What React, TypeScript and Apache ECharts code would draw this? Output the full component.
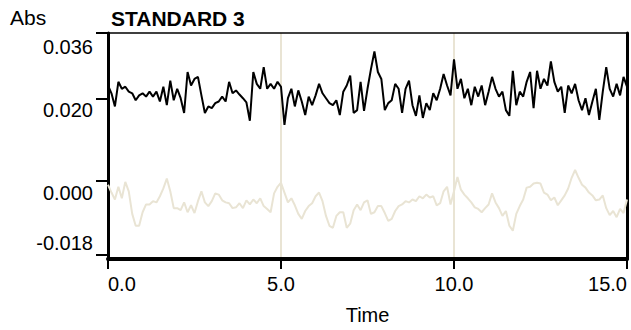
import React, { useEffect, useRef } from "react";
import * as echarts from "echarts";

const STEP = 0.1; // sample spacing along Time

const blackAbs = [
  0.0232, 0.0213, 0.0181, 0.0241, 0.0224, 0.0229, 0.0217, 0.0213, 0.0196, 0.0208,
  0.0213, 0.0205, 0.0217, 0.0205, 0.0217, 0.0193, 0.0229, 0.0184, 0.0244, 0.0196,
  0.0224, 0.0201, 0.0165, 0.0265, 0.0232, 0.0248, 0.0253, 0.0208, 0.0165, 0.0181,
  0.0177, 0.0189, 0.0193, 0.0205, 0.0193, 0.0241, 0.0213, 0.022, 0.021, 0.0201,
  0.0191, 0.0146, 0.0265, 0.0236, 0.0224, 0.0277, 0.0224, 0.0236, 0.0224, 0.0241,
  0.0229, 0.0136, 0.0201, 0.0224, 0.0181, 0.022, 0.0193, 0.016, 0.0205, 0.0184,
  0.0208, 0.0236, 0.0213, 0.0201, 0.0189, 0.0184, 0.0196, 0.016, 0.0217, 0.0232,
  0.0256, 0.0165, 0.0172, 0.0241, 0.017, 0.0224, 0.0272, 0.0315, 0.0265, 0.0248,
  0.0172, 0.0189, 0.0196, 0.0236, 0.0224, 0.0165, 0.0224, 0.0244, 0.0184, 0.0158,
  0.0208, 0.0153, 0.0189, 0.0172, 0.0213, 0.0196, 0.0224, 0.026, 0.0232, 0.0208,
  0.0296, 0.0224, 0.0248, 0.0201, 0.0224, 0.0184, 0.0229, 0.0205, 0.0232, 0.0184,
  0.0217, 0.0253, 0.0224, 0.0205, 0.0217, 0.0172, 0.0158, 0.0268, 0.0184, 0.0217,
  0.0205, 0.0241, 0.0265, 0.0177, 0.0268, 0.0224, 0.0248, 0.0232, 0.0291, 0.0241,
  0.0217, 0.0229, 0.0165, 0.0232, 0.0213, 0.0236, 0.0196, 0.0172, 0.0201, 0.016,
  0.0193, 0.0224, 0.0148, 0.0217, 0.0277, 0.0224, 0.0205, 0.0236, 0.0208, 0.0253, 0.0229,
];

const beigeAbs = [
  -0.001, -0.0029, -0.0046, -0.0015, -0.0043, -0.0003, -0.0026, -0.0081, -0.011, -0.011,
  -0.0077, -0.0058, -0.0058, -0.005, -0.0053, -0.0038, -0.0019, 0.0005, -0.0026, -0.0067,
  -0.0067, -0.0072, -0.0053, -0.0077, -0.006, -0.0079, -0.005, -0.0026, -0.0053, -0.0062,
  -0.005, -0.0031, -0.0034, -0.0048, -0.0053, -0.0055, -0.0067, -0.0065, -0.0055, -0.0067,
  -0.0048, -0.0058, -0.0046, -0.0055, -0.0043, -0.0062, -0.0069, -0.0077, -0.0031, -0.0015,
  -0.0005, -0.0029, -0.0053, -0.0043, -0.006, -0.0081, -0.0093, -0.0074, -0.0062, -0.0055,
  -0.0038, -0.0029, -0.005, -0.0086, -0.011, -0.0115, -0.0086, -0.0077, -0.0077, -0.0115,
  -0.0105, -0.0072, -0.0058, -0.0072, -0.0053, -0.0048, -0.0081, -0.0077, -0.0062, -0.0062,
  -0.0079, -0.0098, -0.0093, -0.0074, -0.0062, -0.0058, -0.005, -0.0053, -0.0046, -0.005,
  -0.0038, -0.0043, -0.0034, -0.0041, -0.0038, -0.006, -0.0055, -0.0026, -0.0015, -0.0058,
  -0.0026, 0.0009, -0.0022, -0.0034, -0.0043, -0.0053, -0.0065, -0.0069, -0.0077, -0.0067,
  -0.0058, -0.0031, -0.0053, -0.0067, -0.0086, -0.0074, -0.011, -0.0122, -0.0081, -0.0062,
  -0.0046, -0.0017, -0.0015, -0.0007, -0.0005, -0.0007, -0.0029, -0.0034, -0.0048, -0.0041,
  -0.006, -0.0048, -0.0036, -0.0019, 0.0007, 0.0026, 0.0007, -0.001, -0.0017, -0.0029,
  -0.0036, -0.0048, -0.0046, -0.0036, -0.0067, -0.0084, -0.0074, -0.0089, -0.0069, -0.0079, -0.0046,
];

const yTickValues = [0.036, 0.02, 0.0, -0.018];
const yTickLabels = ["0.036", "0.020", "0.000", "-0.018"];
const yLabelKeys = ["a", "b", "c", "d"];
const titleText = "STANDARD 3";
const yName = "Abs";
const xName = "Time";

const FONT = "'Liberation Sans', Arial, sans-serif";
const BEIGE = "#E9E4D4";

export default function App() {
  const ref = useRef<HTMLDivElement>(null);

  useEffect(() => {
    if (!ref.current) return;
    const chart = echarts.init(ref.current, undefined, { renderer: "svg" });

    const toPairs = (arr: number[]) => arr.map((v, i) => [+(i * STEP).toFixed(2), v]);
    const labelStyle = { fontSize: 20, fontFamily: FONT, color: "#000" };

    chart.setOption({
      animation: false,
      backgroundColor: "#fff",
      title: {
        text: titleText,
        left: 106,
        top: 3,
        textStyle: { fontSize: 21, fontWeight: "bold", fontFamily: FONT, color: "#000" },
      },
      graphic: [
        {
          type: "text",
          left: 10,
          top: 7,
          style: { text: yName, fontSize: 21, fontFamily: FONT, fill: "#000" },
        },
      ],
      grid: { left: 108, right: 4, top: 33, bottom: 66, containLabel: false },
      xAxis: [
        {
          type: "value",
          min: 0,
          max: 15,
          interval: 5,
          position: "bottom",
          name: xName,
          nameLocation: "middle",
          nameGap: 46,
          nameTextStyle: { fontSize: 20, fontFamily: FONT, color: "#000" },
          axisLine: { show: true, onZero: false, lineStyle: { color: "#000", width: 4 } },
          axisTick: { show: true, length: 10, lineStyle: { color: "#000", width: 2 } },
          axisLabel: {
            ...labelStyle,
            margin: 15,
            formatter: (v: number) => v.toFixed(1),
            alignMinLabel: "left",
            alignMaxLabel: "right",
          },
          splitLine: { show: true, lineStyle: { color: BEIGE, width: 2 } },
        },
        {
          type: "value",
          min: 0,
          max: 15,
          position: "top",
          axisLine: { show: true, onZero: false, lineStyle: { color: "#000", width: 1.5 } },
          axisTick: { show: false },
          axisLabel: { show: false },
          splitLine: { show: false },
        },
      ],
      yAxis: [
        {
          type: "value",
          min: -0.0191,
          max: 0.036,
          position: "left",
          axisLine: { show: true, onZero: false, lineStyle: { color: "#000", width: 3 } },
          axisTick: {
            show: true,
            length: 12,
            customValues: yTickValues,
            lineStyle: { color: "#000", width: 2 },
          },
          axisLabel: {
            ...labelStyle,
            margin: 15,
            customValues: yTickValues,
            formatter: (v: number) => {
              const i = yTickValues.findIndex((t) => Math.abs(t - v) < 1e-9);
              if (i < 0) return "";
              return "{" + yLabelKeys[i] + "|" + yTickLabels[i] + "}";
            },
            rich: {
              a: { ...labelStyle, padding: [28, 0, 0, 0] },
              b: { ...labelStyle, padding: [22, 0, 0, 0] },
              c: { ...labelStyle, padding: [24, 0, 0, 0] },
              d: { ...labelStyle, padding: [0, 0, 22, 0] },
            },
          },
          splitLine: { show: false },
        },
        {
          type: "value",
          min: -0.0191,
          max: 0.036,
          position: "right",
          axisLine: { show: true, onZero: false, lineStyle: { color: "#000", width: 3 } },
          axisTick: { show: false },
          axisLabel: { show: false },
          splitLine: { show: false },
        },
      ],
      series: [
        {
          type: "line",
          name: "ref",
          xAxisIndex: 0,
          yAxisIndex: 0,
          data: toPairs(beigeAbs),
          showSymbol: false,
          lineStyle: { color: BEIGE, width: 2 },
          itemStyle: { color: BEIGE },
          z: 2,
        },
        {
          type: "line",
          name: "sample",
          xAxisIndex: 0,
          yAxisIndex: 0,
          data: toPairs(blackAbs),
          showSymbol: false,
          lineStyle: { color: "#000", width: 2 },
          itemStyle: { color: "#000" },
          z: 3,
        },
      ],
    });

    return () => chart.dispose();
  }, []);

  return (
    <div
      ref={ref}
      style={{ position: "fixed", left: 0, top: 0, width: 631, height: 330, background: "#fff" }}
    />
  );
}
